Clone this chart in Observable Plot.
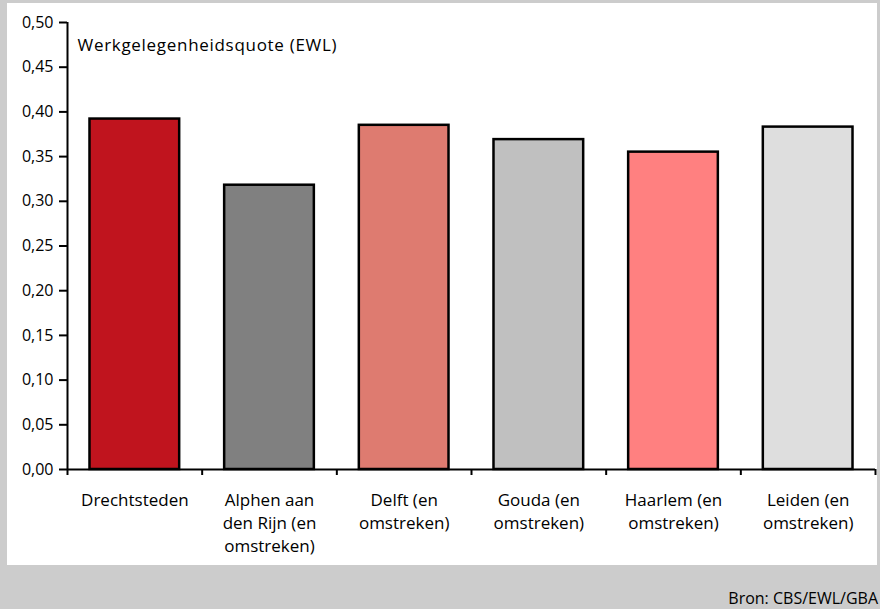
<!DOCTYPE html>
<html>
<head>
<meta charset="utf-8">
<script src="https://cdn.jsdelivr.net/npm/d3@7"></script>
<script src="https://cdn.jsdelivr.net/npm/@observablehq/plot@0.6"></script>
<style>
  html, body { margin: 0; padding: 0; }
  body { width: 880px; height: 609px; background: #cccccc; position: relative; overflow: hidden; font-family: "Open Sans", sans-serif; }
  #panel { position: absolute; left: 7px; top: 3px; width: 870px; height: 562px; background: #ffffff; }
  #source { position: absolute; right: 2px; top: 587px; font-size: 16px; color: #000; }
  .ylab text { letter-spacing: 0.7px; }
</style>
</head>
<body>
<div id="panel"></div>
<div id="source">Bron: CBS/EWL/GBA</div>
<script>
const categories = ["Drechtsteden", "Alphen aan den Rijn (en omstreken)", "Delft (en omstreken)", "Gouda (en omstreken)", "Haarlem (en omstreken)", "Leiden (en omstreken)"];
const categoryLabels = ["Drechtsteden", "Alphen aan\nden Rijn (en\nomstreken)", "Delft (en\nomstreken)", "Gouda (en\nomstreken)", "Haarlem (en\nomstreken)", "Leiden (en\nomstreken)"];
const values = [0.392, 0.318, 0.385, 0.369, 0.355, 0.383];
const colors = ["#c0141e", "#808080", "#de7b70", "#c0c0c0", "#ff8080", "#dedede"];
const yTicks = [0, 0.05, 0.10, 0.15, 0.20, 0.25, 0.30, 0.35, 0.40, 0.45, 0.50];
const yLabel = "Werkgelegenheidsquote (EWL)";

const data = categories.map((name, i) => ({i, name, value: values[i], color: colors[i]}));
const fmt = d => d.toFixed(2).replace(".", ",");

const chart = Plot.plot({
  width: 870,
  height: 562,
  marginLeft: 60,
  marginRight: 2,
  marginTop: 19,
  marginBottom: 96,
  style: {fontFamily: "Open Sans", fontSize: "16px", color: "#000", background: "transparent"},
  x: {domain: [0, 6], axis: null},
  y: {domain: [0, 0.5], axis: null},
  color: {type: "identity"},
  marks: [
    Plot.rectY(data, {x1: d => d.i + 0.167, x2: d => d.i + 0.833, y: "value", fill: "color", stroke: "#000", strokeWidth: 2.5}),
    Plot.axisY({ticks: yTicks, tickFormat: fmt, tickSize: 8, tickPadding: 6, strokeWidth: 2, fontSize: 16, label: null}),
    Plot.axisX({ticks: d3.range(0, 7), tickSize: 6, strokeWidth: 2, tickFormat: () => "", label: null}),
    Plot.axisX({ticks: d3.range(0, 6).map(i => i + 0.5), tickSize: 0, tickPadding: 20, fontSize: 17, lineHeight: 1.35, tickFormat: d => categoryLabels[Math.floor(d)], label: null}),
    Plot.ruleX([0], {y1: 0, y2: 0.5, stroke: "#000", strokeWidth: 2}),
    Plot.ruleY([0], {x1: 0, x2: 6, stroke: "#000", strokeWidth: 2}),
    Plot.text([yLabel], {frameAnchor: "top-left", dx: 10, dy: 16, fontSize: 17, fill: "#000", className: "ylab"})
  ]
});
document.getElementById("panel").appendChild(chart);
</script>
</body>
</html>
